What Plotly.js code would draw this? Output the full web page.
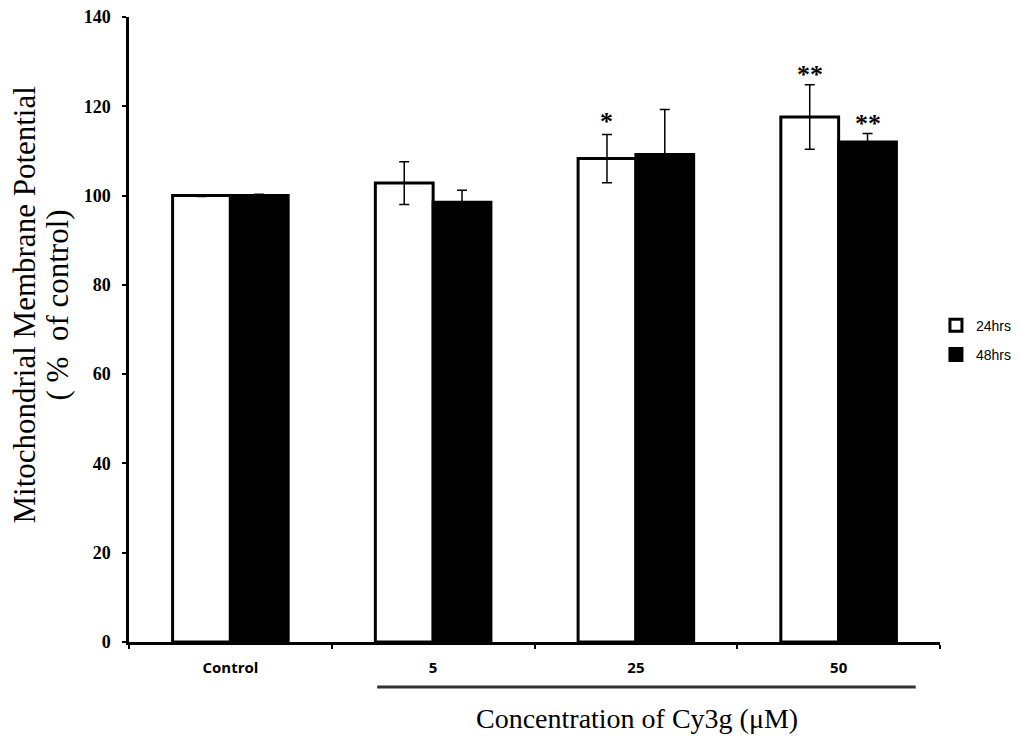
<!DOCTYPE html>
<html>
<head>
<meta charset="utf-8">
<script src="https://cdn.plot.ly/plotly-3.0.1.min.js"></script>
<style>html,body{margin:0;padding:0;background:#fff;}#chart{width:1019px;height:736px;}</style>
</head>
<body>
<div id="chart"></div>
<script>
const categories = ["Control", "5", "25", "50"];
const series24 = [100, 102.8, 108.3, 117.6];
const err24 = [0.2, 4.8, 5.4, 7.2];
const series48 = [100, 98.5, 109.2, 112.0];
const err48 = [0.3, 2.7, 10.1, 1.9];
const sig24 = ["", "", "*", "**"];
const sig48 = ["", "", "", "**"];
const seriesNames = ["24hrs", "48hrs"];
const yTickVals = [0, 20, 40, 60, 80, 100, 120, 140];

const traces = [
  {
    type: "bar", name: seriesNames[0], x: categories, y: series24, legendgroup: "a",
    marker: {color: "#ffffff", line: {color: "#000000", width: 3}},
    error_y: {type: "data", array: err24, visible: true, color: "#000000", thickness: 1.5, width: 5}
  },
  {
    type: "bar", name: seriesNames[1], x: categories, y: series48, legendgroup: "b",
    marker: {color: "#000000", line: {color: "#000000", width: 3}},
    error_y: {type: "data", array: err48, visible: true, color: "#000000", thickness: 1.5, width: 5}
  }
];

const serif = "Liberation Serif, Times New Roman, serif";
const annotations = [];
categories.forEach((c, i) => {
  if (sig24[i]) annotations.push({x: i, y: series24[i] + err24[i], xref: "x", yref: "y", text: "<b>" + sig24[i] + "</b>", showarrow: false, xshift: -29, yshift: sig24[i].length > 1 ? 10 : 13, yanchor: "middle",
    font: {family: serif, size: 26, color: "#000"}});
  if (sig48[i]) annotations.push({x: i, y: series48[i] + err48[i], xref: "x", yref: "y", text: "<b>" + sig48[i] + "</b>", showarrow: false, xshift: 29, yshift: 10, yanchor: "middle",
    font: {family: serif, size: 26, color: "#000"}});
});
annotations.push({
  text: "Mitochondrial Membrane Potential", xref: "paper", yref: "paper",
  x: 0, xshift: -105, y: 0.5, yshift: 24, textangle: -90, showarrow: false, xanchor: "center", yanchor: "middle",
  font: {family: serif, size: 31, color: "#000"}
});
annotations.push({
  text: "( %  of control)", xref: "paper", yref: "paper",
  x: 0, xshift: -72, y: 0.5, yshift: 24, textangle: -90, showarrow: false, xanchor: "center", yanchor: "middle",
  font: {family: serif, size: 31, color: "#000"}
});
annotations.push({
  text: "Concentration of Cy3g (\u03bcM)", xref: "paper", yref: "paper",
  x: 0.627, y: 0, yshift: -76, showarrow: false, xanchor: "center", yanchor: "middle",
  font: {family: serif, size: 28, color: "#000"}
});

const layout = {
  width: 1019, height: 736,
  margin: {l: 129, r: 79, t: 17, b: 94, autoexpand: false},
  paper_bgcolor: "#fff", plot_bgcolor: "#fff",
  barmode: "group", bargap: 0.43, bargroupgap: 0,
  showlegend: true,
  legend: {x: 0.995, xanchor: "left", y: 0.483, yanchor: "middle", traceorder: "grouped", tracegroupgap: 8,
    font: {family: "Liberation Sans, Arial, sans-serif", size: 14, color: "#000"}},
  xaxis: {
    type: "category", range: [-0.5, 3.5], showline: true, linecolor: "#000", linewidth: 2.5,
    ticks: "outside", tickson: "boundaries", ticklen: 4, tickwidth: 2, tickcolor: "#000",
    showgrid: false, zeroline: false, ticklabelstandoff: 10,
    tickfont: {family: "Open Sans, sans-serif", size: 15, color: "#000", weight: "bold"}
  },
  yaxis: {
    range: [0, 140], tickvals: yTickVals, showline: true, linecolor: "#000", linewidth: 2.5,
    ticks: "outside", ticklen: 4, tickwidth: 2, tickcolor: "#000", showgrid: false, zeroline: false,
    ticklabelstandoff: 8,
    tickfont: {family: serif, size: 18, color: "#000", weight: "bold"}
  },
  shapes: [
    {type: "line", xref: "paper", yref: "paper", x0: 0.306, x1: 0.970, y0: -45 / 625, y1: -45 / 625,
     line: {color: "#333", width: 3}}
  ],
  annotations: annotations
};

Plotly.newPlot("chart", traces, layout, {displayModeBar: false});
</script>
</body>
</html>
